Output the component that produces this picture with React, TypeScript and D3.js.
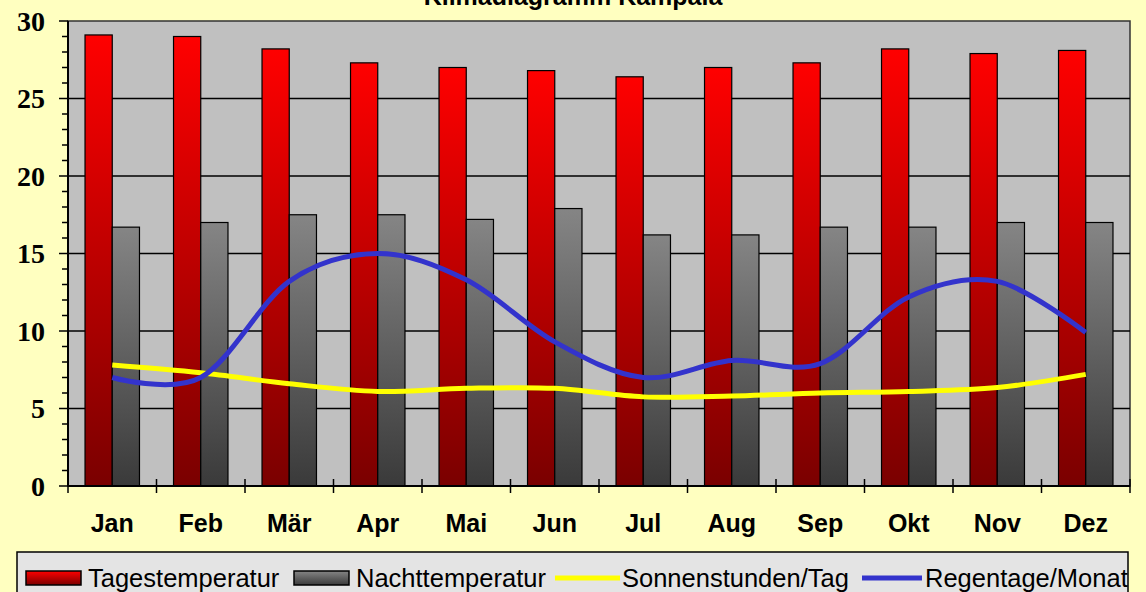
import * as d3 from 'd3'
import * as React from 'react'

// Klimadiagramm Kampala
const months = ['Jan', 'Feb', 'Mär', 'Apr', 'Mai', 'Jun', 'Jul', 'Aug', 'Sep', 'Okt', 'Nov', 'Dez']
const tagesTemp = [29.1, 29.0, 28.2, 27.3, 27.0, 26.8, 26.4, 27.0, 27.3, 28.2, 27.9, 28.1]
const nachtTemp = [16.7, 17.0, 17.5, 17.5, 17.2, 17.9, 16.2, 16.2, 16.7, 16.7, 17.0, 17.0]
const sonnenStunden = [7.8, 7.3, 6.6, 6.1, 6.3, 6.3, 5.75, 5.8, 6.0, 6.1, 6.35, 7.2]
const regenTage = [7.0, 7.0, 13.2, 15.0, 13.3, 9.3, 7.0, 8.1, 7.9, 12.2, 13.2, 9.9]
const yTicks = [0, 5, 10, 15, 20, 25, 30]
const legendLabels = ['Tagestemperatur', 'Nachttemperatur', 'Sonnenstunden/Tag', 'Regentage/Monat']

const W = 1146
const H = 592
const plot = { left: 68, right: 1130, top: 21, bottom: 486 }

export default function App() {
  const x = d3.scaleBand<string>()
    .domain(months)
    .range([plot.left, plot.right])
    .paddingInner(0)
  const step = x.step()
  const barW = step / 3.25 // Excel gap width 125%
  const xSub = d3.scaleBand<number>()
    .domain([0, 1])
    .range([0.625 * barW, 0.625 * barW + 2 * barW])
  const y = d3.scaleLinear().domain([0, 30]).range([plot.bottom, plot.top])

  const line = d3.line<number>()
    .x((_, i) => x(months[i])! + step / 2)
    .y(d => y(d))
    .curve(d3.curveCardinal.tension(0))

  const minor = d3.range(0, 31)
  const series = [tagesTemp, nachtTemp]
  const fills = ['url(#gRed)', 'url(#gGray)']

  const axisFont = '"Liberation Sans", Arial, sans-serif'

  return (
    <div style={{ position: 'absolute', left: 0, top: 0 }}>
      <svg width={W} height={H} style={{ display: 'block' }}>
        <defs>
          <linearGradient id="gRed" x1="0" y1="0" x2="0" y2="1">
            <stop offset="0" stopColor="#ff0000" />
            <stop offset="1" stopColor="#7a0000" />
          </linearGradient>
          <linearGradient id="gGray" x1="0" y1="0" x2="0" y2="1">
            <stop offset="0" stopColor="#858585" />
            <stop offset="1" stopColor="#3a3a3a" />
          </linearGradient>
        </defs>
        <rect x={0} y={0} width={W} height={H} fill="#ffffc0" />

        {/* title (cut off at the top, as in the original) */}
        <text x={W / 2} y={5} textAnchor="middle" fontFamily={axisFont} fontWeight="bold" fontSize={25}>
          Klimadiagramm Kampala
        </text>

        {/* plot area */}
        <rect x={plot.left} y={plot.top} width={plot.right - plot.left} height={plot.bottom - plot.top}
          fill="#c0c0c0" stroke="#333" strokeWidth={1.5} />

        {/* grid lines */}
        {yTicks.filter(t => t > 0 && t < 30).map(t => (
          <line key={t} x1={plot.left} x2={plot.right} y1={y(t)} y2={y(t)} stroke="#000" strokeWidth={1.5} />
        ))}

        {/* bars */}
        {series.map((vals, s) => vals.map((v, i) => (
          <rect key={s + '-' + i}
            x={x(months[i])! + xSub(s)!}
            y={y(v)}
            width={xSub.bandwidth()}
            height={y(0) - y(v)}
            fill={fills[s]}
            stroke="#000" strokeWidth={1.2} />
        )))}

        {/* lines */}
        <path d={line(sonnenStunden)!} fill="none" stroke="#ffff00" strokeWidth={5} />
        <path d={line(regenTage)!} fill="none" stroke="#3333cc" strokeWidth={5} />

        {/* y axis */}
        <line x1={plot.left} x2={plot.left} y1={plot.top} y2={plot.bottom} stroke="#000" strokeWidth={2} />
        {minor.map(t => (
          <line key={t} x1={t % 5 === 0 ? plot.left - 9 : plot.left - 6} x2={plot.left}
            y1={y(t)} y2={y(t)} stroke="#000" strokeWidth={1.5} />
        ))}
        {yTicks.map(t => (
          <text key={t} x={45} y={y(t)} dy="0.35em" textAnchor="end"
            fontFamily='"Liberation Serif", "Times New Roman", serif' fontWeight="bold" fontSize={28}>
            {t}
          </text>
        ))}

        {/* x axis */}
        <line x1={plot.left} x2={plot.right} y1={plot.bottom} y2={plot.bottom} stroke="#000" strokeWidth={2} />
        {d3.range(0, months.length + 1).map(i => (
          <line key={i} x1={plot.left + i * step} x2={plot.left + i * step}
            y1={plot.bottom - 7} y2={plot.bottom + 7} stroke="#000" strokeWidth={1.5} />
        ))}
        {months.map(m => (
          <text key={m} x={x(m)! + step / 2} y={532} textAnchor="middle"
            fontFamily={axisFont} fontWeight="bold" fontSize={25}>
            {m}
          </text>
        ))}

        {/* legend */}
        <rect x={17} y={552} width={1111} height={60} fill="#e4e4e4" stroke="#000" strokeWidth={1.5} />
        <rect x={26} y={571} width={55} height={14} fill="url(#gRed)" stroke="#000" strokeWidth={1.5} />
        <text x={88} y={587} fontFamily={axisFont} fontSize={25.5}>{legendLabels[0]}</text>
        <rect x={294} y={571} width={55} height={14} fill="url(#gGray)" stroke="#000" strokeWidth={1.5} />
        <text x={356} y={587} fontFamily={axisFont} fontSize={25.5}>{legendLabels[1]}</text>
        <line x1={555} x2={620} y1={578} y2={578} stroke="#ffff00" strokeWidth={5} />
        <text x={622} y={587} fontFamily={axisFont} fontSize={25.5}>{legendLabels[2]}</text>
        <line x1={862} x2={922} y1={578} y2={578} stroke="#3333cc" strokeWidth={5} />
        <text x={925} y={587} fontFamily={axisFont} fontSize={25.5}>{legendLabels[3]}</text>
      </svg>
    </div>
  )
}
